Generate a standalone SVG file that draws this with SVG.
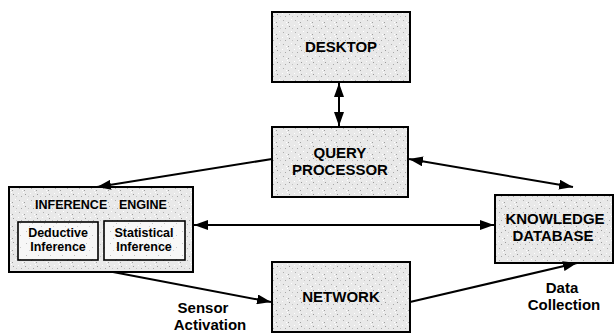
<svg xmlns="http://www.w3.org/2000/svg" width="614" height="333" viewBox="0 0 614 333">
  <defs>
    <!-- stippled light-grey fill used by the main boxes -->
    <pattern id="stipple" width="12" height="12" patternUnits="userSpaceOnUse">
      <rect width="12" height="12" fill="#e9e9e9"/>
      <rect x="1" y="2" width="1" height="1" fill="#9a9a9a"/>
      <rect x="6" y="1" width="1" height="1" fill="#ffffff"/>
      <rect x="9" y="4" width="1" height="1" fill="#a8a8a8"/>
      <rect x="3" y="7" width="1" height="1" fill="#ffffff"/>
      <rect x="7" y="8" width="1" height="1" fill="#b0b0b0"/>
      <rect x="10" y="10" width="1" height="1" fill="#ffffff"/>
      <rect x="0" y="10" width="1" height="1" fill="#a0a0a0"/>
      <rect x="4" y="4" width="1" height="1" fill="#c4c4c4"/>
      <rect x="11" y="0" width="1" height="1" fill="#ffffff"/>
    </pattern>
    <pattern id="stippleLight" width="12" height="12" patternUnits="userSpaceOnUse">
      <rect width="12" height="12" fill="#f7f7f7"/>
      <rect x="2" y="3" width="1" height="1" fill="#c0c0c0"/>
      <rect x="8" y="7" width="1" height="1" fill="#c8c8c8"/>
      <rect x="5" y="10" width="1" height="1" fill="#d0d0d0"/>
    </pattern>
    <marker id="head" viewBox="0 0 14 10" refX="14" refY="5" markerWidth="14" markerHeight="10" markerUnits="userSpaceOnUse" orient="auto-start-reverse">
      <path d="M0,0 L14,5 L0,10 z" fill="#000"/>
    </marker>
  </defs>
  <style>
    .box { fill: url(#stipple); stroke: #000; stroke-width: 2; }
    .inner { fill: url(#stippleLight); stroke: #000; stroke-width: 1.6; }
    .title { font-family: "Liberation Sans", Arial, sans-serif; font-weight: bold; font-size: 15px; fill: #000; text-anchor: middle; }
    .small { font-family: "Liberation Sans", Arial, sans-serif; font-weight: bold; font-size: 12.5px; fill: #000; }
    .mid { text-anchor: middle; }
    .label { font-family: "Liberation Sans", Arial, sans-serif; font-weight: bold; font-size: 15px; fill: #000; text-anchor: middle; }
    .conn { stroke: #000; stroke-width: 2; fill: none; }
  </style>

  <g id="desktop">
    <rect class="box" x="272" y="12" width="138" height="70"/>
    <text class="title" x="341" y="52" font-size="15.5">DESKTOP</text>
  </g>

  <g id="query-processor">
    <rect class="box" x="272" y="127" width="136" height="70"/>
    <text class="title" x="340" y="158">QUERY</text>
    <text class="title" x="340" y="175">PROCESSOR</text>
  </g>

  <g id="inference-engine">
    <rect class="box" x="9" y="187" width="184" height="85"/>
    <text class="small" x="35" y="209">INFERENCE</text>
    <text class="small" x="119" y="209">ENGINE</text>
    <g id="deductive-inference">
      <rect class="inner" x="18" y="222" width="80" height="38"/>
      <text class="small mid" x="58" y="237">Deductive</text>
      <text class="small mid" x="58" y="251">Inference</text>
    </g>
    <g id="statistical-inference">
      <rect class="inner" x="104" y="221" width="81" height="39"/>
      <text class="small mid" x="144" y="237">Statistical</text>
      <text class="small mid" x="144" y="251">Inference</text>
    </g>
  </g>

  <g id="knowledge-database">
    <rect class="box" x="495" y="195" width="118" height="68"/>
    <text class="title" x="555" y="224">KNOWLEDGE</text>
    <text class="title" x="553" y="241">DATABASE</text>
  </g>

  <g id="network">
    <rect class="box" x="272" y="262" width="138" height="70"/>
    <text class="title" x="341" y="302" font-size="15.5">NETWORK</text>
  </g>

  <g id="connectors">
    <line class="conn" x1="339" y1="83" x2="339" y2="126" marker-start="url(#head)" marker-end="url(#head)"/>
    <line class="conn" x1="272" y1="159" x2="97" y2="187" marker-end="url(#head)"/>
    <line class="conn" x1="409" y1="159" x2="573" y2="187" marker-start="url(#head)" marker-end="url(#head)"/>
    <line class="conn" x1="194" y1="225" x2="494" y2="225" marker-start="url(#head)" marker-end="url(#head)"/>
    <line class="conn" x1="113" y1="272" x2="271" y2="302" marker-end="url(#head)"/>
    <line class="conn" x1="410" y1="302" x2="577" y2="263" marker-end="url(#head)"/>
    <text class="label" x="203" y="313">Sensor</text>
    <text class="label" x="210" y="330">Activation</text>
    <text class="label" x="562" y="293">Data</text>
    <text class="label" x="564" y="310">Collection</text>
  </g>
</svg>
